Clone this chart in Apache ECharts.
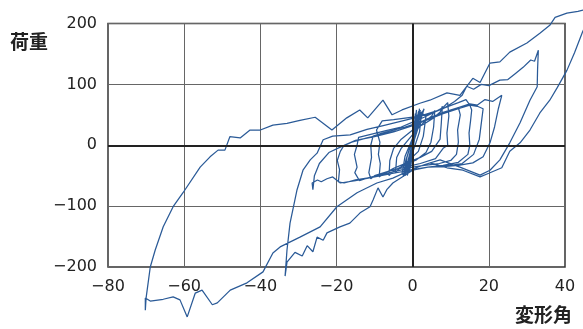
<!DOCTYPE html>
<html>
<head>
<meta charset="utf-8">
<script src="https://cdn.jsdelivr.net/npm/echarts@6/dist/echarts.min.js"></script>
<style>
html,body{margin:0;padding:0;background:#fff;}
#chart{width:583px;height:329px;}
</style>
</head>
<body>
<div id="chart"></div>
<script>
// Axis ticks
const xTicks = [-80, -60, -40, -20, 0, 20, 40];
const yTicks = [-200, -100, 0, 100, 200];
const xName = '変形角';
const yName = '荷重';

// Hysteresis path [deformation angle, load], in loading order
const centerCycles = [[0,0],[0.4,18],[0.8,30],[0.5,12],[-0.2,-8],[-0.7,-25],[-0.9,-32],[-0.4,-12],[0.3,12],[0.9,35],[1.1,42],[0.6,18],[-0.3,-10],[-1,-35],[-1.3,-40],[-0.6,-15],[0.2,10],[1,38],[1.3,48],[0.8,22],[-0.2,-8],[-1.2,-38],[-1.6,-45],[-0.9,-20],[0.1,8],[1.2,42],[1.5,55],[0.9,25],[-0.4,-12],[-1.5,-42],[-2,-50],[-1.2,-25],[0,5],[1.4,45],[1.8,60],[1.2,30],[-0.2,-5],[-1.7,-40],[-2.2,-48],[-1.5,-20],[0,10],[1.6,48],[2,58],[1.4,28],[-0.5,-10],[-2,-42],[-2.5,-52],[-1.8,-25],[-0.3,5],[1.5,42],[2.4,55],[1.8,22],[0,-12],[-2.2,-45],[-2.8,-48],[-2,-18],[0,12],[2.2,50],[3,60]];
const centerRepeat = [[0.5,10],[-0.3,-20],[-0.8,-40],[-0.5,-20],[0.2,5],[0.6,30],[0.9,50],[0.4,25],[-0.2,0],[-0.6,-28],[-1.1,-46],[-0.6,-22],[0,0],[0.5,28],[0.7,52],[0.3,20],[-0.4,-15],[-0.9,-44],[-0.4,-30],[0.1,-5],[0.8,40],[1,58],[0.5,30],[-0.1,2],[-0.7,-30],[-1.4,-50],[-0.9,-28],[-0.2,-4],[0.4,22],[1.2,50],[0.8,35],[1.6,56]];
const smallCycles = [[3.5,48],[2.8,15],[1.5,-10],[-1,-25],[-3,-35],[-4.5,-45],[-4.2,-20],[-3,-5],[-1,10],[1,25],[3,38],[5,48],[5.8,57],[5.5,30],[4.8,5],[3.5,-12],[1,-24],[-2,-32],[-5,-42],[-6.2,-50],[-6,-25],[-5,-5],[-3,10],[0,25],[3,35],[5.5,45],[7.3,55],[7.8,64],[7.5,35],[7.2,10],[5,-10],[2,-20],[-2,-30],[-5,-38],[-8,-48],[-8.8,-52],[-8.5,-30],[-9,-15],[-8.6,5],[-9.5,25],[-8,40],[-5,42],[-1.5,45],[2,48],[5,52],[8,62],[9.2,70],[9.5,48],[9,20],[9.2,0],[8,-5],[6,-22],[2,-30],[-2,-36],[-6,-42],[-10,-50],[-11,-55]];
const midCycles = [[-11.5,-45],[-10.8,-20],[-11,0],[-10.4,15],[-8,20],[-5,25],[-2,30],[1,36],[4,42],[7,50],[10,56],[12,62],[12.5,50],[11.8,25],[12,5],[11.5,-15],[10,-25],[7,-30],[3,-33],[0,-36],[-4,-42],[-8,-48],[-12,-54],[-14,-58],[-15.2,-45],[-14.6,-36],[-15.3,-15],[-14.6,0],[-14.2,13],[-11,18],[-7,24],[-3,30],[0,38],[3,46],[6,55],[9,63],[12,70],[14,75],[15,66],[15.5,58],[15.2,40],[14.8,20],[15,0],[14.5,-15],[12,-28],[8,-33],[4,-36],[0,-40],[-5,-46],[-10,-52],[-15,-57],[-18,-62],[-19.5,-60],[-19.2,-40],[-19.8,-25],[-19,-10],[-18,0],[-17.7,-3],[-15,8],[-10,14],[-5,22],[0,32],[4,42],[8,52],[12,60],[15,66],[17,64],[18.5,60],[18,35],[17.5,10],[16,-15],[13,-30],[9,-34],[4,-36],[0,-40],[-5,-46],[-10,-52],[-15,-58],[-19,-62],[-21,-52],[-22.5,-55],[-24,-60],[-25,-57],[-26.4,-62],[-26.2,-73],[-25.8,-50],[-24.5,-30],[-22,-12],[-19,-3],[-16,5],[-12,12],[-8,18],[-4,24],[0,32]];
const cycle23 = [[4,44],[8,54],[12,62],[15,68],[17,66],[19,75],[21,72],[23.4,82],[22.5,60],[21.5,30],[20.3,4],[18.5,-19],[15.8,-29],[12,-33],[8,-35],[4,-36],[0,-41],[-5.2,-62],[-6.8,-73],[-7.8,-85],[-9.1,-70],[-10.4,-90],[-11.2,-101],[-13.8,-111],[-16.5,-128],[-19.1,-134],[-22.5,-144],[-23.5,-156],[-25.1,-151],[-26.2,-175],[-27.7,-165],[-29,-182],[-30.9,-176],[-33,-192],[-33.5,-215]];
const cycle33 = [[-33,-172],[-32.2,-128],[-30.4,-74],[-28.8,-41],[-26.9,-24],[-25.1,-13],[-23.5,9],[-21,15],[-16.4,17],[-12,26],[-8,32],[-4,38],[0,44],[4,52],[8,60],[11,72],[13,82],[14.2,97],[16,92],[18,100],[20,98],[22.9,107],[25,108],[27,118],[29,128],[31,140],[32,138],[33,156],[32.8,125],[32.7,96],[30.8,74],[28.2,37],[25.5,4],[22.9,-24],[20.3,-41],[17.7,-49],[12.4,-36],[7.2,-24],[3,-32],[-0.7,-41],[-5.2,-54],[-9.4,-62],[-14.6,-78],[-19.9,-101],[-24.3,-134],[-29.6,-151],[-34.8,-167],[-36.7,-177],[-39.3,-208],[-43.5,-226],[-47.9,-238],[-51.3,-259],[-52.6,-262],[-55.3,-238],[-57.1,-243],[-59.2,-282],[-61.1,-254],[-62.9,-249],[-65.5,-253],[-68.9,-256],[-70.2,-251],[-70.2,-271]];
const cycle70 = [[-70,-251],[-68.9,-200],[-67.6,-172],[-65.5,-134],[-62.9,-101],[-60.3,-78],[-55.8,-36],[-53.2,-19],[-51.1,-8],[-49.3,-8],[-48,14],[-45.3,12],[-42.7,25],[-40,25],[-36.7,33],[-33,36],[-29.6,41],[-25.6,46],[-21.2,25],[-17.3,45],[-13.9,58],[-11.8,45],[-7.8,74],[-5.4,50],[-2.8,58],[1.9,69],[4.5,74],[9,86],[12.4,82],[15.8,110],[17.7,103],[20.3,135],[22.9,137],[25.5,153],[30,168],[33.4,184],[36,197],[37.4,210],[40.5,217],[43.4,220],[47.5,226],[44.6,186],[42.5,152],[40.5,123],[38,95],[36,74],[33.4,53],[30.8,25],[28.2,4],[25.5,-10],[23.4,-37],[20,-46],[17.7,-52],[13.2,-41],[9,-37],[4.5,-29]];

const path = [].concat(centerCycles, centerRepeat, smallCycles, midCycles, cycle23, cycle33, cycle70);
const minus = v => String(v).replace('-', '\u2212');

// plot geometry (shared by both grids)
const gLeft = 108, gTop = 23.5, gWidth = 457, gHeight = 243.5;
const xMin = xTicks[0], xMax = xTicks[xTicks.length - 1];
const pxPerUnit = gWidth / (xMax - xMin);
const xMaxWide = 50; // hidden wider axis so the path can run past the frame
const gWidthWide = gWidth + (xMaxWide - xMax) * pxPerUnit;

const chart = echarts.init(document.getElementById('chart'), null, {renderer: 'canvas'});
chart.setOption({
  animation: false,
  backgroundColor: '#fff',
  grid: [
    {left: gLeft, top: gTop, width: gWidth, height: gHeight, outerBoundsMode: 'none', containLabel: false, show: true, borderColor: '#333', borderWidth: 1.5, backgroundColor: 'transparent'},
    {left: gLeft, top: gTop, width: gWidthWide, height: gHeight, outerBoundsMode: 'none', containLabel: false, show: false}
  ],
  xAxis: [{
    gridIndex: 0, type: 'value', min: xMin, max: xMax, interval: xTicks[1] - xTicks[0],
    axisLine: {show: false}, axisTick: {show: false},
    splitLine: {show: true, lineStyle: {color: '#666', width: 1}},
    axisLabel: {fontSize: 16, color: '#222', fontFamily: 'DejaVu Sans', margin: 12, formatter: minus}
  }, {
    gridIndex: 1, type: 'value', min: xMin, max: xMaxWide, interval: 10, show: false
  }],
  yAxis: [{
    gridIndex: 0, type: 'value', min: yTicks[0], max: yTicks[yTicks.length - 1], interval: yTicks[1] - yTicks[0],
    axisLine: {show: false}, axisTick: {show: false},
    splitLine: {show: true, lineStyle: {color: '#666', width: 1}},
    axisLabel: {fontSize: 16, color: '#222', fontFamily: 'DejaVu Sans', margin: 11, formatter: minus}
  }, {
    gridIndex: 1, type: 'value', min: yTicks[0], max: yTicks[yTicks.length - 1], interval: 100, show: false
  }],
  graphic: [
    {type: 'text', left: 10, top: 32, style: {text: yName, font: 'bold 19px "Noto Sans CJK JP"', fill: '#222'}},
    {type: 'text', left: 515, top: 305, style: {text: xName, font: 'bold 19px "Noto Sans CJK JP"', fill: '#222'}}
  ],
  series: [
    {
      type: 'line', xAxisIndex: 0, yAxisIndex: 0, data: [[0, 0]], symbol: 'none', silent: true, z: 1,
      lineStyle: {width: 0},
      markLine: {
        silent: true, symbol: ['none', 'none'], label: {show: false},
        lineStyle: {color: '#222', width: 2, type: 'solid'},
        data: [{xAxis: 0}, {yAxis: 0}]
      }
    },
    {
      type: 'line', xAxisIndex: 1, yAxisIndex: 1, data: path, symbol: 'none', showSymbol: false, clip: false, z: 3,
      lineStyle: {color: '#2a5a97', width: 1.25}
    }
  ]
});
</script>
</body>
</html>
